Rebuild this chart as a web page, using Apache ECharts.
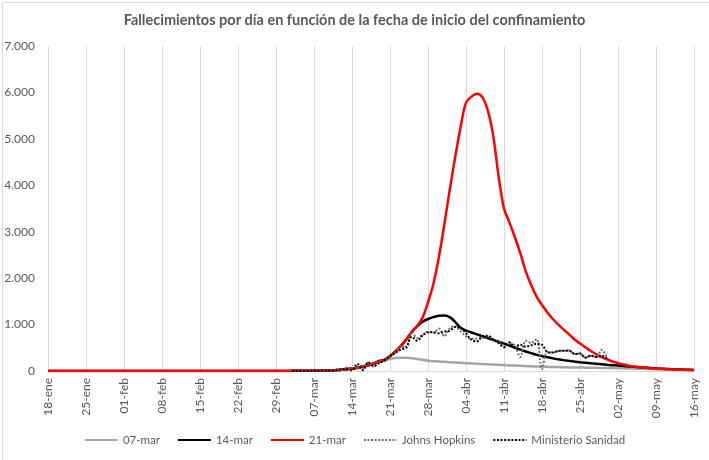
<!DOCTYPE html>
<html>
<head>
<meta charset="utf-8">
<script src="https://cdn.jsdelivr.net/npm/echarts@6/dist/echarts.min.js"></script>
<style>
html,body{margin:0;padding:0;background:#fff;}
#c{width:709px;height:460px;}
</style>
</head>
<body>
<div id="c"></div>
<script>
// Categories (daily, 18-ene .. 16-may)
var categories = [
 '18-ene','19-ene','20-ene','21-ene','22-ene','23-ene','24-ene','25-ene','26-ene','27-ene','28-ene','29-ene','30-ene','31-ene',
 '01-feb','02-feb','03-feb','04-feb','05-feb','06-feb','07-feb','08-feb','09-feb','10-feb','11-feb','12-feb','13-feb','14-feb','15-feb','16-feb','17-feb','18-feb','19-feb','20-feb','21-feb','22-feb','23-feb','24-feb','25-feb','26-feb','27-feb','28-feb','29-feb',
 '01-mar','02-mar','03-mar','04-mar','05-mar','06-mar','07-mar','08-mar','09-mar','10-mar','11-mar','12-mar','13-mar','14-mar','15-mar','16-mar','17-mar','18-mar','19-mar','20-mar','21-mar','22-mar','23-mar','24-mar','25-mar','26-mar','27-mar','28-mar','29-mar','30-mar','31-mar',
 '01-abr','02-abr','03-abr','04-abr','05-abr','06-abr','07-abr','08-abr','09-abr','10-abr','11-abr','12-abr','13-abr','14-abr','15-abr','16-abr','17-abr','18-abr','19-abr','20-abr','21-abr','22-abr','23-abr','24-abr','25-abr','26-abr','27-abr','28-abr','29-abr','30-abr',
 '01-may','02-may','03-may','04-may','05-may','06-may','07-may','08-may','09-may','10-may','11-may','12-may','13-may','14-may','15-may','16-may'
];

// Model: confinement starting 07-mar (index 0..119)
var s07mar = [
 0,0,0,0,0,0,0,0,0,0, 0,0,0,0,0,0,0,0,0,0, 0,0,0,0,0,0,0,0,0,0, 0,0,0,0,0,0,0,0,0,0,
 1,1,1,2,2,3,3,4,4,5, 7,10,14,20,28,38,52,70,95,120, 155,195,230,260,278,285,283,275,260,240,
 222,212,204,197,190,183,176,169,162,156, 150,144,138,132,127,121,116,111,106,101, 97,93,90,87,84,81,78,76,74,72,
 70,68,66,64,62,60,57,54,51,48, 45,42,39,36,33,30,27,24,21,18
];
// Model: confinement starting 14-mar
var s14mar = [
 0,0,0,0,0,0,0,0,0,0, 0,0,0,0,0,0,0,0,0,0, 0,0,0,0,0,0,0,0,0,0, 0,0,0,0,0,0,0,0,0,0,
 1,1,1,2,2,3,3,4,4,5, 7,10,14,20,28,38,52,70,95,125, 165,215,240,320,420,540,680,840,960,1060,
 1120,1160,1190,1195,1160,1060,930,870,830,790, 750,710,670,630,590,550,500,460,420,385, 350,320,295,272,252,234,218,203,190,178,
 166,155,145,135,126,117,108,99,90,82, 74,66,58,51,45,39,34,30,26,23
];
// Model: confinement starting 21-mar
var s21mar = [
 0,0,0,0,0,0,0,0,0,0, 0,0,0,0,0,0,0,0,0,0, 0,0,0,0,0,0,0,0,0,0, 0,0,0,0,0,0,0,0,0,0,
 1,1,1,2,2,3,3,4,4,5, 7,10,14,20,28,38,52,70,95,125, 165,200,240,320,420,540,680,840,970,1150,
 1480,1880,2450,3150,3900,4600,5250,5780,5910,5970, 5900,5620,5080,4200,3500,3200,2880,2540,2150,1850, 1600,1420,1260,1120,1000,890,790,680,590,510,
 430,360,300,250,205,170,140,115,95,80, 68,58,50,44,38,33,29,26,23,20
];
// Observed daily deaths, from 03-mar (index 45) to 30-abr (index 103)
var johnsHopkins = [
 1,1,1,2,5,7,11,7,19,1,
 78,62,94,53,191,90,207,213,332,397,
 539,497,839,718,773,844,821,913,748,
 923,961,850,749,694,700,704,747,655,634,
 525,603,547,300,652,607,687,41,410,399,
 430,435,440,367,378,288,331,301,453,268
];
var ministerioSanidad = [
 1,1,1,2,5,7,11,7,12,37,
 36,16,152,21,182,107,169,235,324,394,
 462,514,738,655,769,832,838,812,849,
 864,950,932,809,674,637,743,757,683,605,
 510,619,517,567,523,551,585,565,410,399,
 430,435,440,367,378,288,331,301,325,268
];
var obsStart = 45;

function pad(arr, start) {
  var out = [];
  for (var i = 0; i < categories.length; i++) {
    var k = i - start;
    out.push(k >= 0 && k < arr.length ? arr[k] : null);
  }
  return out;
}
function fmt(v) { return String(v).replace(/\B(?=(\d{3})+(?!\d))/g, '.'); }

var FONT = 'Lato, "Liberation Sans", sans-serif';
var chart = echarts.init(document.getElementById('c'), null, {renderer: 'canvas'});
chart.setOption({
  animation: false,
  backgroundColor: '#ffffff',
  textStyle: {fontFamily: FONT},
  title: {
    text: 'Fallecimientos por día en función de la fecha de inicio del confinamiento',
    left: 'center', top: 8,
    textStyle: {fontFamily: FONT, fontSize: 14.5, fontWeight: 'bold', color: '#595959'}
  },
  graphic: [{
    type: 'rect', left: 0, top: 0, silent: true,
    shape: {x: 0.5, y: 0.5, width: 708, height: 459},
    style: {fill: 'none', stroke: '#d9d9d9', lineWidth: 1}
  }],
  grid: {left: 48, right: 15, top: 46, bottom: 89, containLabel: false},
  legend: {
    bottom: 9, left: 'center', itemWidth: 33, itemHeight: 12, itemGap: 17,
    itemStyle: {opacity: 0},
    textStyle: {fontFamily: FONT, fontSize: 11.5, color: '#595959'},
    data: ['07-mar', '14-mar', '21-mar', 'Johns Hopkins', 'Ministerio Sanidad']
  },
  xAxis: {
    type: 'category', data: categories, boundaryGap: false,
    axisLine: {lineStyle: {color: '#d9d9d9', width: 1}},
    axisTick: {show: false},
    axisLabel: {interval: 6, rotate: 90, color: '#595959', fontSize: 12, fontFamily: FONT, margin: 7},
    splitLine: {show: true, interval: 6, lineStyle: {color: '#d9d9d9', width: 1}}
  },
  yAxis: {
    type: 'value', min: 0, max: 7000, interval: 1000,
    axisLine: {show: false}, axisTick: {show: false},
    splitLine: {show: false},
    axisLabel: {color: '#595959', fontSize: 12, fontFamily: FONT, margin: 13, formatter: fmt}
  },
  series: [
    {name: '07-mar', type: 'line', data: s07mar, smooth: 0.35, symbol: 'none',
     lineStyle: {color: '#a5a5a5', width: 2.5}, itemStyle: {color: '#a5a5a5'}},
    {name: '14-mar', type: 'line', data: s14mar, smooth: 0.35, symbol: 'none',
     lineStyle: {color: '#000000', width: 2.5}, itemStyle: {color: '#000000'}},
    {name: '21-mar', type: 'line', data: s21mar, smooth: 0.35, symbol: 'none',
     lineStyle: {color: '#ff0000', width: 2.5}, itemStyle: {color: '#ff0000'}},
    {name: 'Johns Hopkins', type: 'line', data: pad(johnsHopkins, obsStart), smooth: 0.35, symbol: 'none',
     lineStyle: {color: '#6f6f6f', width: 2, type: [2, 1.6]}, itemStyle: {color: '#6f6f6f'}},
    {name: 'Ministerio Sanidad', type: 'line', data: pad(ministerioSanidad, obsStart), smooth: 0.35, symbol: 'none',
     lineStyle: {color: '#000000', width: 2, type: [2, 1.6]}, itemStyle: {color: '#000000'}}
  ]
});
</script>
</body>
</html>
